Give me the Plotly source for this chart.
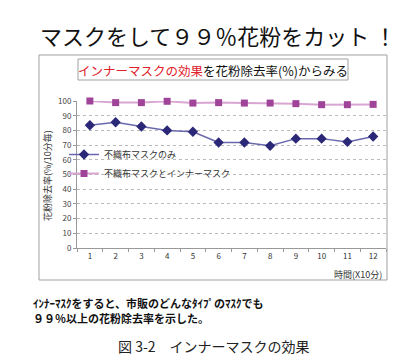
import plotly.graph_objects as go

# ---- data ----
time_labels = ["1", "2", "3", "4", "5", "6", "7", "8", "9", "10", "11", "12"]
mask_only = [83.5, 85.5, 82.7, 80.0, 79.1, 71.8, 71.8, 69.5, 74.4, 74.4, 72.2, 75.9]
mask_inner = [100.0, 98.9, 98.9, 99.8, 98.6, 98.9, 98.6, 98.6, 98.2, 97.5, 97.5, 97.7]
series_names = ["不織布マスクのみ", "不織布マスクとインナーマスク"]
y_ticks = [0, 10, 20, 30, 40, 50, 60, 70, 80, 90, 100]

W, H = 404, 356
L, R, T, B = 69, 26, 93, 116
PW, PH = W - L - R, H - T - B
FONT = "Noto Sans CJK JP, Noto Sans, sans-serif"


def px(x):
    return (x - L) / PW


def py(y):
    return 1 - (y - T) / PH


fig = go.Figure()
fig.add_trace(go.Scatter(
    x=time_labels, y=mask_only, name=series_names[0], mode="lines+markers",
    line=dict(color="#6A68AC", width=1.5),
    marker=dict(symbol="diamond", size=8, color="#2C2878"),
    cliponaxis=False))
fig.add_trace(go.Scatter(
    x=time_labels, y=mask_inner, name=series_names[1], mode="lines+markers",
    line=dict(color="#D9A6D3", width=2),
    marker=dict(symbol="square", size=7, color="#A0449A"),
    cliponaxis=False))

fig.update_layout(
    width=W, height=H,
    margin=dict(l=L, r=R, t=T, b=B),
    paper_bgcolor="white", plot_bgcolor="white",
    font=dict(family=FONT, color="#333333", size=8),
    showlegend=True,
    legend=dict(x=px(56), y=py(132), xanchor="left", yanchor="top",
                bgcolor="rgba(0,0,0,0)", borderwidth=0, font=dict(size=9, color="#333333"),
                traceorder="normal", itemwidth=30),
    xaxis=dict(type="category", range=[-0.5, 11.5], showgrid=False,
               showline=True, linecolor="#999999", linewidth=1,
               ticks="outside", tickson="boundaries", ticklen=3, tickcolor="#999999",
               tickfont=dict(size=8, color="#333333")),
    yaxis=dict(range=[0, 100], tickvals=y_ticks, showgrid=True,
               gridcolor="#BBBBBB", griddash="dot", gridwidth=1,
               showline=True, linecolor="#999999", linewidth=1,
               ticks="outside", ticklen=3, tickcolor="#999999",
               tickfont=dict(size=8, color="#444444"), zeroline=False),
)

shapes = [
    # white legend backdrop hiding the gridlines (above grid, below data)
    dict(type="rect", xref="x domain", yref="paper", x0=0.004, x1=(272 - L) / PW,
         y0=py(181), y1=py(143), fillcolor="white", line=dict(width=0), layer="below"),
    # outer chart frame
    dict(type="rect", xref="paper", yref="paper", x0=px(31), x1=px(379), y0=py(272), y1=py(47),
         line=dict(color="#A0A0A0", width=1)),
    # subtitle frame
    dict(type="rect", xref="paper", yref="paper", x0=px(70), x1=px(340), y0=py(72), y1=py(51),
         line=dict(color="#A0A0A0", width=1)),
]
fig.update_layout(shapes=shapes)

ann = [
    dict(text="マスクをして９９％花粉をカット ！", x=px(210), y=py(27), font=dict(size=22, color="#111111")),
    dict(text="<span style='color:#E0202A'>インナーマスクの効果</span>を花粉除去率(%)からみる",
         x=px(205), y=py(62), font=dict(size=12.5, color="#111111")),
    dict(text="花粉除去率(%/10分毎)", x=px(39), y=py(168), textangle=-90, font=dict(size=9, color="#333333")),
    dict(text="時間(X10分)", x=px(376), y=py(266), xanchor="right", font=dict(size=9, color="#333333")),
    dict(text="<b>ｲﾝﾅｰﾏｽｸをすると、市販のどんなﾀｲﾌﾟのﾏｽｸでも</b>",
         x=px(23), y=py(294.5), xanchor="left", font=dict(size=11, color="#111111")),
    dict(text="<b>９９％以上の花粉除去率を示した。</b>",
         x=px(23), y=py(309.5), xanchor="left", font=dict(size=11, color="#111111")),
    dict(text="図 3-2　インナーマスクの効果", x=px(206), y=py(338), font=dict(size=14, color="#222222")),
]
for a in ann:
    a.setdefault("xanchor", "center")
    a.update(xref="paper", yref="paper", yanchor="middle", showarrow=False)
fig.update_layout(annotations=ann)

fig.write_html("out.html")
